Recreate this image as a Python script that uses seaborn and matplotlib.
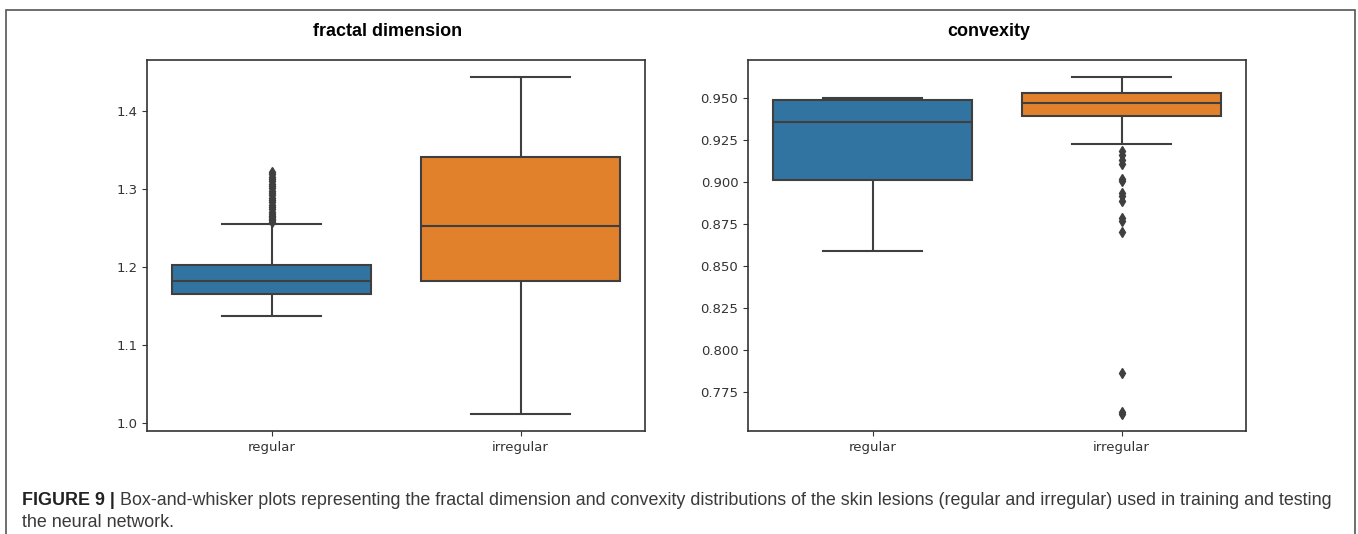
import numpy as np
import pandas as pd
import matplotlib
matplotlib.use('Agg')
import matplotlib.pyplot as plt
from matplotlib.patches import Rectangle
import seaborn as sns

# Box summaries: lower whisker, Q1, median, Q3, upper whisker
groups = ['regular', 'irregular']

fractal_regular = [1.1365, 1.1655, 1.1815, 1.202, 1.255]
fractal_irregular = [1.011, 1.182, 1.253, 1.341, 1.444]
fractal_regular_outliers = [1.258, 1.260, 1.262, 1.264, 1.266, 1.268, 1.271, 1.274,
                            1.277, 1.280, 1.283, 1.286, 1.289, 1.292, 1.295, 1.298,
                            1.301, 1.304, 1.307, 1.310, 1.313, 1.316, 1.319, 1.322]
fractal_irregular_outliers = []

convex_regular = [0.8592, 0.9011, 0.9358, 0.9486, 0.950]
convex_irregular = [0.9228, 0.9393, 0.9469, 0.9526, 0.9624]
convex_regular_outliers = []
convex_irregular_outliers = [0.9185, 0.916, 0.913, 0.9105, 0.9015, 0.9005, 0.8932,
                             0.8918, 0.8887, 0.8786, 0.877, 0.870, 0.7865, 0.7633, 0.762]

palette = ['#1f77b4', '#ff7f0e']
line_gray = '#3f3f3f'


def build_frame(summaries, outliers, weight=100):
    # repeat each summary value so the quartiles stay put once outliers are added
    rows = []
    for g, summ, outl in zip(groups, summaries, outliers):
        for v in summ:
            rows += [(g, v)] * weight
        rows += [(g, v) for v in outl]
    return pd.DataFrame(rows, columns=['group', 'value'])


fractal_df = build_frame([fractal_regular, fractal_irregular],
                         [fractal_regular_outliers, fractal_irregular_outliers])
convex_df = build_frame([convex_regular, convex_irregular],
                        [convex_regular_outliers, convex_irregular_outliers])

plt.rcParams['font.family'] = ['DejaVu Sans']

fig = plt.figure(figsize=(13.58, 5.34), dpi=100)
ax1 = fig.add_axes([147 / 1358, 1 - 431 / 534, 498 / 1358, 371 / 534])
ax2 = fig.add_axes([748 / 1358, 1 - 431 / 534, 498 / 1358, 371 / 534])

for ax, df, title in [(ax1, fractal_df, 'fractal dimension'), (ax2, convex_df, 'convexity')]:
    sns.boxplot(data=df, x='group', y='value', hue='group', order=groups,
                hue_order=groups, palette=palette, saturation=0.75, width=0.8,
                linewidth=1.5, linecolor=line_gray, legend=False, ax=ax,
                flierprops=dict(marker='d', markerfacecolor=line_gray,
                                markeredgecolor=line_gray, markersize=5))
    ax.set_xlabel('')
    ax.set_ylabel('')
    ax.set_title(title, fontsize=13, fontweight='bold', family='Liberation Sans',
                 pad=17, x=0.484)
    ax.tick_params(labelsize=9.5, colors='#333333', labelcolor='#333333')
    for sp in ax.spines.values():
        sp.set_color('#333333')
        sp.set_linewidth(1.2)

ax1.set_yticks([1.0, 1.1, 1.2, 1.3, 1.4])
ax2.set_yticks([0.775, 0.800, 0.825, 0.850, 0.875, 0.900, 0.925, 0.950])
ax2.set_yticklabels([f'{t:.3f}' for t in ax2.get_yticks()])

# outer frame of the figure panel
fig.add_artist(Rectangle((6 / 1358, -0.05), 1349 / 1358, 1.05 - 10 / 534,
                         transform=fig.transFigure, fill=False,
                         edgecolor='#555555', linewidth=1.2))

# caption
renderer = fig.canvas.get_renderer()
cap_kw = dict(fontsize=12.9, family='Liberation Sans', va='baseline')
bold = fig.text(22 / 1358, 1 - 505 / 534, 'FIGURE 9 |', fontweight='bold',
                color='#222222', **cap_kw)
bb = bold.get_window_extent(renderer)
fig.text((bb.x1 + 5) / 1358, 1 - 505 / 534,
         'Box-and-whisker plots representing the fractal dimension and convexity '
         'distributions of the skin lesions (regular and irregular) used in training and testing',
         color='#3a3a3a', **cap_kw)
fig.text(22 / 1358, 1 - 527 / 534, 'the neural network.', color='#3a3a3a', **cap_kw)

fig.savefig('out.png', dpi=100)
